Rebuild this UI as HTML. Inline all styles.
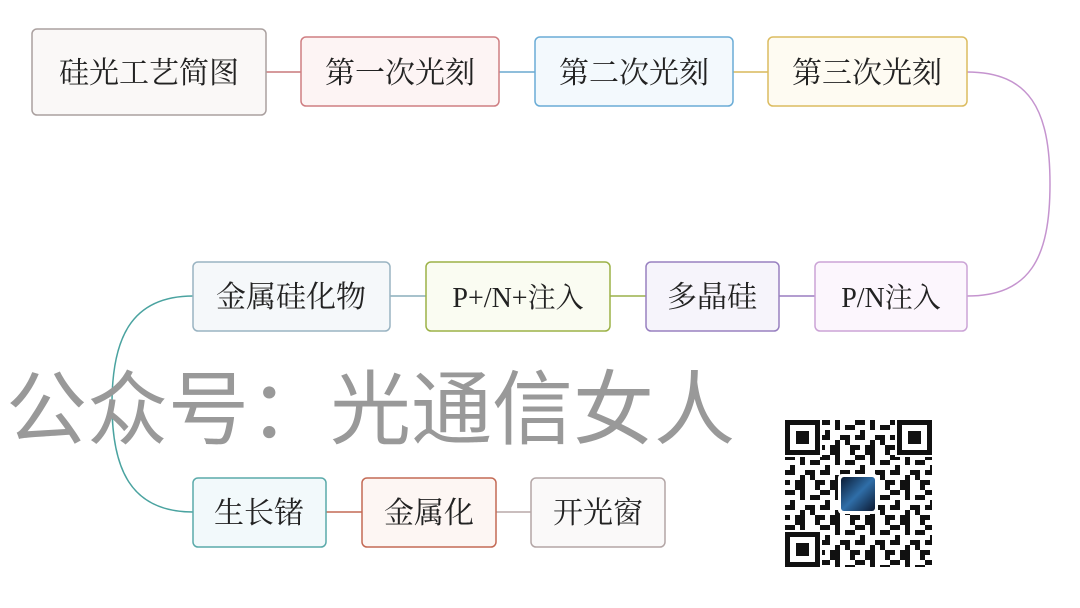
<!DOCTYPE html>
<html><head><meta charset="utf-8"><style>
html,body{margin:0;padding:0;background:#fff;}
svg{display:block}
text{font-family:"Liberation Serif","Noto Serif CJK SC",serif;}
</style></head><body>
<svg width="1080" height="608" viewBox="0 0 1080 608" xmlns="http://www.w3.org/2000/svg">
<defs>
<pattern id="qr" x="785" y="420" width="35" height="35" patternUnits="userSpaceOnUse">
<rect x="0" y="0" width="10" height="5" fill="#111"/><rect x="15" y="0" width="5" height="10" fill="#111"/>
<rect x="25" y="5" width="10" height="5" fill="#111"/><rect x="5" y="10" width="5" height="10" fill="#111"/>
<rect x="20" y="15" width="10" height="5" fill="#111"/><rect x="0" y="25" width="5" height="5" fill="#111"/>
<rect x="10" y="25" width="10" height="10" fill="#111"/><rect x="30" y="25" width="5" height="10" fill="#111"/>
<rect x="25" y="20" width="5" height="5" fill="#111"/><rect x="0" y="15" width="5" height="5" fill="#111"/>
<rect x="15" y="20" width="5" height="5" fill="#111"/>
</pattern>
<linearGradient id="lg" x1="0" y1="0" x2="1" y2="1"><stop offset="0" stop-color="#0a1a33"/><stop offset="0.5" stop-color="#2f6ea8"/><stop offset="1" stop-color="#0b1830"/></linearGradient>
</defs>

<line x1="266" y1="72" x2="301" y2="72" stroke="#c8797b" stroke-width="1.5"/>
<line x1="499" y1="72" x2="535" y2="72" stroke="#6aa9cf" stroke-width="1.5"/>
<line x1="733" y1="72" x2="768" y2="72" stroke="#d9b95a" stroke-width="1.5"/>
<path d="M967 72 C1030 72 1050 110 1050 184 C1050 258 1030 296 967 296" fill="none" stroke="#c594cf" stroke-width="1.5"/>
<line x1="779" y1="296" x2="815" y2="296" stroke="#9a7dc0" stroke-width="1.5"/>
<line x1="610" y1="296" x2="646" y2="296" stroke="#9ab04a" stroke-width="1.5"/>
<line x1="390" y1="296" x2="426" y2="296" stroke="#8aaebc" stroke-width="1.5"/>
<path d="M193 296 C130 296 112 340 112 404 C112 468 130 512 193 512" fill="none" stroke="#4aa3a0" stroke-width="1.5"/>
<line x1="326" y1="512" x2="362" y2="512" stroke="#c46a55" stroke-width="1.5"/>
<line x1="496" y1="512" x2="531" y2="512" stroke="#b8a9a8" stroke-width="1.5"/>

<g stroke-width="1.5">
<rect x="32" y="29" width="234" height="86" rx="5" fill="#faf8f7" stroke="#aaa09f"/>
<rect x="301" y="37" width="198" height="69" rx="5" fill="#fdf4f4" stroke="#cf7e82"/>
<rect x="535" y="37" width="198" height="69" rx="5" fill="#f3f9fd" stroke="#6aacd6"/>
<rect x="768" y="37" width="199" height="69" rx="5" fill="#fefbf2" stroke="#dcbc60"/>
<rect x="815" y="262" width="152" height="69" rx="5" fill="#fcf6fd" stroke="#cba4d6"/>
<rect x="646" y="262" width="133" height="69" rx="5" fill="#f6f4fb" stroke="#9880c0"/>
<rect x="426" y="262" width="184" height="69" rx="5" fill="#fafcf2" stroke="#9cb247"/>
<rect x="193" y="262" width="197" height="69" rx="5" fill="#f5f8fa" stroke="#9ab4c2"/>
<rect x="193" y="478" width="133" height="69" rx="5" fill="#f2f9fb" stroke="#5aaaaa"/>
<rect x="362" y="478" width="134" height="69" rx="5" fill="#fdf6f3" stroke="#c46a55"/>
<rect x="531" y="478" width="134" height="69" rx="5" fill="#faf9f9" stroke="#b3a6a6"/>
</g>

<g font-size="30" fill="#222" text-anchor="middle">
<text x="149" y="83">硅光工艺简图</text>
<text x="400" y="83">第一次光刻</text>
<text x="634" y="83">第二次光刻</text>
<text x="867" y="83">第三次光刻</text>
<text x="891" y="307" font-size="28">P/N注入</text>
<text x="712" y="307">多晶硅</text>
<text x="518" y="307" font-size="28">P+/N+注入</text>
<text x="291" y="307">金属硅化物</text>
<text x="259" y="523">生长锗</text>
<text x="429" y="523">金属化</text>
<text x="598" y="523">开光窗</text>
</g>

<text x="6" y="438" font-size="81" fill="#999" style='font-family:"Liberation Sans","Noto Sans CJK SC",sans-serif'>公众号：光通信女人</text>

<rect x="785" y="420" width="147" height="147" fill="url(#qr)"/>
<g fill="#fff">
<rect x="785" y="420" width="37" height="37"/><rect x="895" y="420" width="37" height="37"/><rect x="785" y="530" width="37" height="37"/>
</g>
<g fill="none" stroke="#111" stroke-width="5">
<rect x="787.5" y="422.5" width="30" height="30"/><rect x="899.5" y="422.5" width="30" height="30"/><rect x="787.5" y="534.5" width="30" height="30"/>
</g>
<g fill="#111"><rect x="796" y="431" width="13" height="13"/><rect x="908" y="431" width="13" height="13"/><rect x="796" y="543" width="13" height="13"/></g>
<rect x="838" y="474" width="40" height="40" rx="4" fill="#fff"/>
<rect x="841" y="477" width="34" height="34" rx="3" fill="url(#lg)"/>
</svg>
</body></html>
